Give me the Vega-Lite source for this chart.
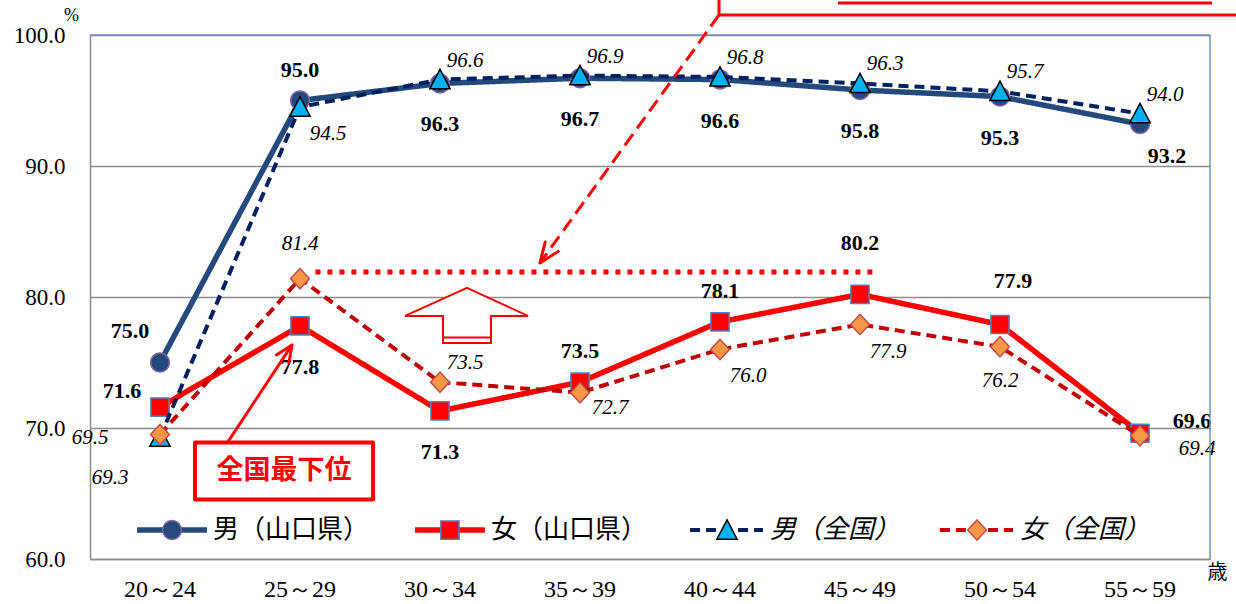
{
  "$schema": "https://vega.github.io/schema/vega-lite/v6.json",
  "width": 1120,
  "height": 524,
  "autosize": "none",
  "padding": {"left": 90, "top": 35, "right": 26, "bottom": 45},
  "background": "white",
  "config": {"view": {"stroke": null}},
  "datasets": {
    "main": [
      {"age": "20～24", "series": "男（山口県）", "v": 75.0, "pos": "NW"},
      {"age": "25～29", "series": "男（山口県）", "v": 95.0, "pos": "N"},
      {"age": "30～34", "series": "男（山口県）", "v": 96.3, "pos": "S"},
      {"age": "35～39", "series": "男（山口県）", "v": 96.7, "pos": "S"},
      {"age": "40～44", "series": "男（山口県）", "v": 96.6, "pos": "S"},
      {"age": "45～49", "series": "男（山口県）", "v": 95.8, "pos": "S"},
      {"age": "50～54", "series": "男（山口県）", "v": 95.3, "pos": "S"},
      {"age": "55～59", "series": "男（山口県）", "v": 93.2, "pos": "SE"},
      {"age": "20～24", "series": "女（山口県）", "v": 71.6, "pos": "W"},
      {"age": "25～29", "series": "女（山口県）", "v": 77.8, "pos": "S"},
      {"age": "30～34", "series": "女（山口県）", "v": 71.3, "pos": "S"},
      {"age": "35～39", "series": "女（山口県）", "v": 73.5, "pos": "N"},
      {"age": "40～44", "series": "女（山口県）", "v": 78.1, "pos": "N"},
      {"age": "45～49", "series": "女（山口県）", "v": 80.2, "pos": "NN"},
      {"age": "50～54", "series": "女（山口県）", "v": 77.9, "pos": "NNE"},
      {"age": "55～59", "series": "女（山口県）", "v": 69.6, "pos": "E"},
      {"age": "20～24", "series": "男（全国）", "v": 69.3, "pos": "SW"},
      {"age": "25～29", "series": "男（全国）", "v": 94.5, "pos": "SE"},
      {"age": "30～34", "series": "男（全国）", "v": 96.6, "pos": "NE"},
      {"age": "35～39", "series": "男（全国）", "v": 96.9, "pos": "NE"},
      {"age": "40～44", "series": "男（全国）", "v": 96.8, "pos": "NE"},
      {"age": "45～49", "series": "男（全国）", "v": 96.3, "pos": "NE"},
      {"age": "50～54", "series": "男（全国）", "v": 95.7, "pos": "NE"},
      {"age": "55～59", "series": "男（全国）", "v": 94.0, "pos": "NE"},
      {"age": "20～24", "series": "女（全国）", "v": 69.5, "pos": "W"},
      {"age": "25～29", "series": "女（全国）", "v": 81.4, "pos": "N"},
      {"age": "30～34", "series": "女（全国）", "v": 73.5, "pos": "NE"},
      {"age": "35～39", "series": "女（全国）", "v": 72.7, "pos": "ESE"},
      {"age": "40～44", "series": "女（全国）", "v": 76.0, "pos": "SE"},
      {"age": "45～49", "series": "女（全国）", "v": 77.9, "pos": "SE"},
      {"age": "50～54", "series": "女（全国）", "v": 76.2, "pos": "S"},
      {"age": "55～59", "series": "女（全国）", "v": 69.4, "pos": "E"}
    ],
    "legend": [
      {"series": "男（山口県）", "x": 0.336, "x2": 0.836, "xm": 0.586, "xt": 0.879, "y": 62.21},
      {"series": "女（山口県）", "x": 2.321, "x2": 2.821, "xm": 2.571, "xt": 2.864, "y": 62.21},
      {"series": "男（全国）", "x": 4.286, "x2": 4.807, "xm": 4.55, "xt": 4.857, "y": 62.21},
      {"series": "女（全国）", "x": 6.071, "x2": 6.593, "xm": 6.336, "xt": 6.643, "y": 62.21}
    ],
    "frame": [
      {"x": 0, "y": 100, "x2": 8, "y2": 100},
      {"x": 8, "y": 60, "x2": 8, "y2": 100}
    ],
    "dotted": [{"x": 1.61, "x2": 5.59, "y": 81.9}],
    "uparrow": [{"x": 2.686, "y": 78.63}],
    "box": [{"x": 1.386, "y": 66.72, "label": "全国最下位"}],
    "solidline": [{"x": 0.979, "y": 68.85, "x2": 1.443, "y2": 76.34}],
    "solidhead": [{"x": 1.443, "y": 76.34}],
    "dashline": [{"x": 4.493, "y": 101.53, "x2": 3.214, "y2": 82.6}],
    "dashhead": [{"x": 3.214, "y": 82.6}],
    "callout": [
      {"x": 4.493, "y": 101.53, "x2": 8.3, "y2": 101.53},
      {"x": 4.493, "y": 101.53, "x2": 4.493, "y2": 103.3},
      {"x": 5.343, "y": 102.44, "x2": 8.014, "y2": 102.44}
    ]
  },
  "layer": [
    {
      "data": {"name": "main"},
      "encoding": {
        "x": {
          "field": "age", "type": "ordinal", "sort": null,
          "scale": {"type": "band", "paddingInner": 0, "paddingOuter": 0},
          "axis": {
            "labelFont": "Liberation Serif", "labelFontSize": 24, "labelColor": "#000000",
            "labelPadding": 18, "ticks": false, "tickSize": 0, "labelAngle": 0,
            "domainColor": "#8C8C8C", "domainWidth": 1.5,
            "title": "歳", "titleFont": "Noto Sans CJK JP", "titleFontSize": 20, "titleFontWeight": "normal",
            "titleColor": "#000000", "titleX": 1117, "titleY": 13, "titleAlign": "left", "titleBaseline": "middle", "titleAngle": 0
          }
        },
        "y": {
          "field": "v", "type": "quantitative",
          "scale": {"domain": [60, 100], "nice": false, "zero": false},
          "axis": {
            "values": [60, 70, 80, 90, 100], "format": ".1f",
            "labelFont": "Liberation Serif", "labelFontSize": 23, "labelColor": "#000000",
            "labelPadding": 25, "ticks": false, "tickSize": 0, "labelFlush": false, "labelOverlap": false,
            "grid": true, "gridColor": "#8C8C8C", "gridWidth": 1.3,
            "domainColor": "#8C8C8C", "domainWidth": 1.5,
            "title": "%", "titleFont": "Liberation Serif", "titleFontSize": 18, "titleFontWeight": "normal",
            "titleColor": "#000000", "titleAngle": 0, "titleX": -19, "titleY": -20, "titleAlign": "center", "titleBaseline": "middle"
          }
        }
      },
      "layer": [
        {
          "transform": [{"filter": "datum.series === '男（山口県）'"}],
          "mark": {"type": "line", "strokeWidth": 5.5, "strokeJoin": "round"},
          "encoding": {
            "color": {"field": "series", "type": "nominal", "legend": null,
              "scale": {"domain": ["男（山口県）", "女（山口県）", "男（全国）", "女（全国）"], "range": ["#24497D", "#FF0000", "#002060", "#C00000"]}},
            "strokeDash": {"field": "series", "type": "nominal", "legend": null,
              "scale": {"domain": ["男（山口県）", "女（山口県）", "男（全国）", "女（全国）"], "range": [[1, 0], [1, 0], [10, 6], [10, 6]]}}
          }
        },
        {
          "transform": [{"filter": "datum.series === '男（山口県）'"}],
          "mark": {"type": "point", "filled": true, "size": 4900, "strokeWidth": 1.5, "opacity": 1},
          "encoding": {
            "fill": {"field": "series", "type": "nominal", "legend": null,
              "scale": {"domain": ["男（山口県）", "女（山口県）", "男（全国）", "女（全国）"], "range": ["#24497D", "#FF0000", "#00B0F0", "#F79646"]}},
            "shape": {"field": "series", "type": "nominal", "legend": null,
              "scale": {"domain": ["男（山口県）", "女（山口県）", "男（全国）", "女（全国）"],
                "range": ["M0.27,0L0.2494,0.1033L0.1909,0.1909L0.1033,0.2494L0,0.27L-0.1033,0.2494L-0.1909,0.1909L-0.2494,0.1033L-0.27,0L-0.2494,-0.1033L-0.1909,-0.1909L-0.1033,-0.2494L0,-0.27L0.1033,-0.2494L0.1909,-0.1909L0.2494,-0.1033Z", "M-0.26,-0.26L0.26,-0.26L0.26,0.26L-0.26,0.26Z", "M0,-0.29L0.29,0.26L-0.29,0.26Z", "M0,-0.29L0.27,0L0,0.29L-0.27,0Z"]}},
            "stroke": {"field": "series", "type": "nominal", "legend": null,
              "scale": {"domain": ["男（山口県）", "女（山口県）", "男（全国）", "女（全国）"], "range": ["#8064A2", "#4F81BD", "#000000", "#C0504D"]}}
          }
        },
        {
          "transform": [{"filter": "datum.series === '女（山口県）'"}],
          "mark": {"type": "line", "strokeWidth": 5.5, "strokeJoin": "round"},
          "encoding": {"color": {"field": "series", "type": "nominal", "legend": null}, "strokeDash": {"field": "series", "type": "nominal", "legend": null}}
        },
        {
          "transform": [{"filter": "datum.series === '女（山口県）'"}],
          "mark": {"type": "point", "filled": true, "size": 4900, "strokeWidth": 1.5, "opacity": 1},
          "encoding": {"fill": {"field": "series", "type": "nominal", "legend": null}, "shape": {"field": "series", "type": "nominal", "legend": null}, "stroke": {"field": "series", "type": "nominal", "legend": null}}
        },
        {
          "transform": [{"filter": "datum.series === '男（全国）'"}],
          "mark": {"type": "line", "strokeWidth": 4, "strokeJoin": "round", "strokeCap": "butt"},
          "encoding": {"color": {"field": "series", "type": "nominal", "legend": null}, "strokeDash": {"field": "series", "type": "nominal", "legend": null}}
        },
        {
          "transform": [{"filter": "datum.series === '男（全国）'"}],
          "mark": {"type": "point", "filled": true, "size": 4900, "strokeWidth": 1.5, "opacity": 1},
          "encoding": {"fill": {"field": "series", "type": "nominal", "legend": null}, "shape": {"field": "series", "type": "nominal", "legend": null}, "stroke": {"field": "series", "type": "nominal", "legend": null}}
        },
        {
          "transform": [{"filter": "datum.series === '女（全国）'"}],
          "mark": {"type": "line", "strokeWidth": 4, "strokeJoin": "round", "strokeCap": "butt"},
          "encoding": {"color": {"field": "series", "type": "nominal", "legend": null}, "strokeDash": {"field": "series", "type": "nominal", "legend": null}}
        },
        {
          "transform": [{"filter": "datum.series === '女（全国）'"}],
          "mark": {"type": "point", "filled": true, "size": 4900, "strokeWidth": 1.5, "opacity": 1},
          "encoding": {"fill": {"field": "series", "type": "nominal", "legend": null}, "shape": {"field": "series", "type": "nominal", "legend": null}, "stroke": {"field": "series", "type": "nominal", "legend": null}}
        },
        {"transform": [{"filter": "indexof(datum.series, '山口県') >= 0 && datum.pos === 'NW'"}],
         "mark": {"type": "text", "dx": -30, "dy": -32, "font": "Liberation Serif", "fontSize": 22, "fontWeight": "bold", "color": "#000000"},
         "encoding": {"text": {"field": "v", "type": "quantitative", "format": ".1f"}}},
        {"transform": [{"filter": "indexof(datum.series, '山口県') >= 0 && datum.pos === 'N'"}],
         "mark": {"type": "text", "dx": 0, "dy": -31, "font": "Liberation Serif", "fontSize": 22, "fontWeight": "bold", "color": "#000000"},
         "encoding": {"text": {"field": "v", "type": "quantitative", "format": ".1f"}}},
        {"transform": [{"filter": "indexof(datum.series, '山口県') >= 0 && datum.pos === 'S'"}],
         "mark": {"type": "text", "dx": 0, "dy": 41, "font": "Liberation Serif", "fontSize": 22, "fontWeight": "bold", "color": "#000000"},
         "encoding": {"text": {"field": "v", "type": "quantitative", "format": ".1f"}}},
        {"transform": [{"filter": "indexof(datum.series, '山口県') >= 0 && datum.pos === 'SE'"}],
         "mark": {"type": "text", "dx": 27, "dy": 32, "font": "Liberation Serif", "fontSize": 22, "fontWeight": "bold", "color": "#000000"},
         "encoding": {"text": {"field": "v", "type": "quantitative", "format": ".1f"}}},
        {"transform": [{"filter": "indexof(datum.series, '山口県') >= 0 && datum.pos === 'W'"}],
         "mark": {"type": "text", "dx": -38, "dy": -16, "font": "Liberation Serif", "fontSize": 22, "fontWeight": "bold", "color": "#000000"},
         "encoding": {"text": {"field": "v", "type": "quantitative", "format": ".1f"}}},
        {"transform": [{"filter": "indexof(datum.series, '山口県') >= 0 && datum.pos === 'NN'"}],
         "mark": {"type": "text", "dx": 0, "dy": -51, "font": "Liberation Serif", "fontSize": 22, "fontWeight": "bold", "color": "#000000"},
         "encoding": {"text": {"field": "v", "type": "quantitative", "format": ".1f"}}},
        {"transform": [{"filter": "indexof(datum.series, '山口県') >= 0 && datum.pos === 'NNE'"}],
         "mark": {"type": "text", "dx": 13, "dy": -44, "font": "Liberation Serif", "fontSize": 22, "fontWeight": "bold", "color": "#000000"},
         "encoding": {"text": {"field": "v", "type": "quantitative", "format": ".1f"}}},
        {"transform": [{"filter": "indexof(datum.series, '山口県') >= 0 && datum.pos === 'E'"}],
         "mark": {"type": "text", "dx": 52, "dy": -12, "font": "Liberation Serif", "fontSize": 22, "fontWeight": "bold", "color": "#000000"},
         "encoding": {"text": {"field": "v", "type": "quantitative", "format": ".1f"}}},
        {"transform": [{"filter": "indexof(datum.series, '全国') >= 0 && datum.pos === 'SW'"}],
         "mark": {"type": "text", "dx": -50, "dy": 41, "font": "Liberation Serif", "fontSize": 21, "fontStyle": "italic", "color": "#000000"},
         "encoding": {"text": {"field": "v", "type": "quantitative", "format": ".1f"}}},
        {"transform": [{"filter": "indexof(datum.series, '全国') >= 0 && datum.pos === 'SE'"}],
         "mark": {"type": "text", "dx": 28, "dy": 27, "font": "Liberation Serif", "fontSize": 21, "fontStyle": "italic", "color": "#000000"},
         "encoding": {"text": {"field": "v", "type": "quantitative", "format": ".1f"}}},
        {"transform": [{"filter": "indexof(datum.series, '全国') >= 0 && datum.pos === 'NE'"}],
         "mark": {"type": "text", "dx": 25, "dy": -19, "font": "Liberation Serif", "fontSize": 21, "fontStyle": "italic", "color": "#000000"},
         "encoding": {"text": {"field": "v", "type": "quantitative", "format": ".1f"}}},
        {"transform": [{"filter": "indexof(datum.series, '全国') >= 0 && datum.pos === 'W'"}],
         "mark": {"type": "text", "dx": -70, "dy": 3, "font": "Liberation Serif", "fontSize": 21, "fontStyle": "italic", "color": "#000000"},
         "encoding": {"text": {"field": "v", "type": "quantitative", "format": ".1f"}}},
        {"transform": [{"filter": "indexof(datum.series, '全国') >= 0 && datum.pos === 'N'"}],
         "mark": {"type": "text", "dx": 0, "dy": -35, "font": "Liberation Serif", "fontSize": 21, "fontStyle": "italic", "color": "#000000"},
         "encoding": {"text": {"field": "v", "type": "quantitative", "format": ".1f"}}},
        {"transform": [{"filter": "indexof(datum.series, '全国') >= 0 && datum.pos === 'ESE'"}],
         "mark": {"type": "text", "dx": 30, "dy": 15, "font": "Liberation Serif", "fontSize": 21, "fontStyle": "italic", "color": "#000000"},
         "encoding": {"text": {"field": "v", "type": "quantitative", "format": ".1f"}}},
        {"transform": [{"filter": "indexof(datum.series, '全国') >= 0 && datum.pos === 'S'"}],
         "mark": {"type": "text", "dx": 0, "dy": 34, "font": "Liberation Serif", "fontSize": 21, "fontStyle": "italic", "color": "#000000"},
         "encoding": {"text": {"field": "v", "type": "quantitative", "format": ".1f"}}},
        {"transform": [{"filter": "indexof(datum.series, '全国') >= 0 && datum.pos === 'E'"}],
         "mark": {"type": "text", "dx": 57, "dy": 13, "font": "Liberation Serif", "fontSize": 21, "fontStyle": "italic", "color": "#000000"},
         "encoding": {"text": {"field": "v", "type": "quantitative", "format": ".1f"}}}
      ]
    },
    {
      "layer": [
        {
          "data": {"name": "frame"},
          "mark": {"type": "rule", "color": "#6F90C8", "strokeWidth": 1.5},
          "encoding": {
            "x": {"field": "x", "type": "quantitative", "scale": {"domain": [0, 8], "nice": false, "zero": false}, "axis": null},
            "x2": {"field": "x2"},
            "y": {"field": "y", "type": "quantitative", "scale": {"domain": [60, 100], "nice": false, "zero": false}, "axis": null},
            "y2": {"field": "y2"}
          }
        },
        {
          "data": {"name": "legend"},
          "transform": [{"filter": "indexof(datum.series, '山口県') >= 0"}],
          "mark": {"type": "rule", "strokeWidth": 5.5},
          "encoding": {
            "x": {"field": "x", "type": "quantitative", "scale": {"domain": [0, 8], "nice": false, "zero": false}, "axis": null},
            "x2": {"field": "x2"},
            "y": {"field": "y", "type": "quantitative", "scale": {"domain": [60, 100], "nice": false, "zero": false}, "axis": null},
            "color": {"field": "series", "type": "nominal", "legend": null},
            "strokeDash": {"field": "series", "type": "nominal", "legend": null}
          }
        },
        {
          "data": {"name": "legend"},
          "transform": [{"filter": "indexof(datum.series, '全国') >= 0"}],
          "mark": {"type": "rule", "strokeWidth": 4},
          "encoding": {
            "x": {"field": "x", "type": "quantitative", "scale": {"domain": [0, 8], "nice": false, "zero": false}, "axis": null},
            "x2": {"field": "x2"},
            "y": {"field": "y", "type": "quantitative", "scale": {"domain": [60, 100], "nice": false, "zero": false}, "axis": null},
            "color": {"field": "series", "type": "nominal", "legend": null},
            "strokeDash": {"field": "series", "type": "nominal", "legend": null}
          }
        },
        {
          "data": {"name": "legend"},
          "mark": {"type": "point", "filled": true, "size": 4900, "strokeWidth": 1.5, "opacity": 1},
          "encoding": {
            "x": {"field": "xm", "type": "quantitative", "scale": {"domain": [0, 8], "nice": false, "zero": false}, "axis": null},
            "y": {"field": "y", "type": "quantitative", "scale": {"domain": [60, 100], "nice": false, "zero": false}, "axis": null},
            "fill": {"field": "series", "type": "nominal", "legend": null},
            "shape": {"field": "series", "type": "nominal", "legend": null},
            "stroke": {"field": "series", "type": "nominal", "legend": null}
          }
        },
        {
          "data": {"name": "legend"},
          "transform": [{"filter": "indexof(datum.series, '山口県') >= 0"}],
          "mark": {"type": "text", "align": "left", "baseline": "middle", "font": "Noto Sans CJK JP", "fontSize": 26, "color": "#000000"},
          "encoding": {
            "x": {"field": "xt", "type": "quantitative", "scale": {"domain": [0, 8], "nice": false, "zero": false}, "axis": null},
            "y": {"field": "y", "type": "quantitative", "scale": {"domain": [60, 100], "nice": false, "zero": false}, "axis": null},
            "text": {"field": "series"}
          }
        },
        {
          "data": {"name": "legend"},
          "transform": [{"filter": "indexof(datum.series, '全国') >= 0"}],
          "mark": {"type": "text", "align": "left", "baseline": "middle", "font": "Noto Sans CJK JP", "fontSize": 26, "fontStyle": "italic", "color": "#000000"},
          "encoding": {
            "x": {"field": "xt", "type": "quantitative", "scale": {"domain": [0, 8], "nice": false, "zero": false}, "axis": null},
            "y": {"field": "y", "type": "quantitative", "scale": {"domain": [60, 100], "nice": false, "zero": false}, "axis": null},
            "text": {"field": "series"}
          }
        },
        {
          "data": {"name": "dotted"},
          "mark": {"type": "rule", "color": "#FF0000", "strokeWidth": 5, "strokeDash": [5, 7]},
          "encoding": {
            "x": {"field": "x", "type": "quantitative", "scale": {"domain": [0, 8], "nice": false, "zero": false}, "axis": null},
            "x2": {"field": "x2"},
            "y": {"field": "y", "type": "quantitative", "scale": {"domain": [60, 100], "nice": false, "zero": false}, "axis": null}
          }
        },
        {
          "data": {"name": "uparrow"},
          "mark": {"type": "point", "filled": true, "fill": "#FFFFFF", "stroke": "#FF0000", "strokeWidth": 2, "opacity": 1, "size": 10000,
                   "shape": "M0.02,-0.54L1.24,0.02L0.5,0.02L0.5,0.56L-0.46,0.56L-0.46,0.02L-1.22,0.02ZM-0.46,0.45L0.5,0.45"},
          "encoding": {
            "x": {"field": "x", "type": "quantitative", "scale": {"domain": [0, 8], "nice": false, "zero": false}, "axis": null},
            "y": {"field": "y", "type": "quantitative", "scale": {"domain": [60, 100], "nice": false, "zero": false}, "axis": null}
          }
        },
        {
          "data": {"name": "solidline"},
          "mark": {"type": "rule", "color": "#FF0000", "strokeWidth": 3},
          "encoding": {
            "x": {"field": "x", "type": "quantitative", "scale": {"domain": [0, 8], "nice": false, "zero": false}, "axis": null},
            "x2": {"field": "x2"},
            "y": {"field": "y", "type": "quantitative", "scale": {"domain": [60, 100], "nice": false, "zero": false}, "axis": null},
            "y2": {"field": "y2"}
          }
        },
        {
          "data": {"name": "solidhead"},
          "mark": {"type": "point", "filled": false, "stroke": "#FF0000", "strokeWidth": 3, "opacity": 1, "size": 10000, "angle": 33.6,
                   "strokeCap": "round", "strokeJoin": "round", "shape": "M-0.15,0.34L0,0L0.15,0.34"},
          "encoding": {
            "x": {"field": "x", "type": "quantitative", "scale": {"domain": [0, 8], "nice": false, "zero": false}, "axis": null},
            "y": {"field": "y", "type": "quantitative", "scale": {"domain": [60, 100], "nice": false, "zero": false}, "axis": null}
          }
        },
        {
          "data": {"name": "dashline"},
          "mark": {"type": "rule", "color": "#FF0000", "strokeWidth": 3, "strokeDash": [14, 7]},
          "encoding": {
            "x": {"field": "x", "type": "quantitative", "scale": {"domain": [0, 8], "nice": false, "zero": false}, "axis": null},
            "x2": {"field": "x2"},
            "y": {"field": "y", "type": "quantitative", "scale": {"domain": [60, 100], "nice": false, "zero": false}, "axis": null},
            "y2": {"field": "y2"}
          }
        },
        {
          "data": {"name": "dashhead"},
          "mark": {"type": "point", "filled": false, "stroke": "#FF0000", "strokeWidth": 3, "opacity": 1, "size": 10000, "angle": 215.8,
                   "strokeCap": "round", "strokeJoin": "round", "shape": "M-0.16,0.4L0,0L0.16,0.4"},
          "encoding": {
            "x": {"field": "x", "type": "quantitative", "scale": {"domain": [0, 8], "nice": false, "zero": false}, "axis": null},
            "y": {"field": "y", "type": "quantitative", "scale": {"domain": [60, 100], "nice": false, "zero": false}, "axis": null}
          }
        },
        {
          "data": {"name": "callout"},
          "mark": {"type": "rule", "color": "#FF0000", "strokeWidth": 3},
          "encoding": {
            "x": {"field": "x", "type": "quantitative", "scale": {"domain": [0, 8], "nice": false, "zero": false}, "axis": null},
            "x2": {"field": "x2"},
            "y": {"field": "y", "type": "quantitative", "scale": {"domain": [60, 100], "nice": false, "zero": false}, "axis": null},
            "y2": {"field": "y2"}
          }
        },
        {
          "data": {"name": "box"},
          "mark": {"type": "point", "filled": true, "fill": "#FFFFFF", "stroke": "#FF0000", "strokeWidth": 4, "opacity": 1, "size": 10000,
                   "strokeJoin": "round", "shape": "M-1.78,-0.57L1.78,-0.57L1.78,0.57L-1.78,0.57Z"},
          "encoding": {
            "x": {"field": "x", "type": "quantitative", "scale": {"domain": [0, 8], "nice": false, "zero": false}, "axis": null},
            "y": {"field": "y", "type": "quantitative", "scale": {"domain": [60, 100], "nice": false, "zero": false}, "axis": null}
          }
        },
        {
          "data": {"name": "box"},
          "mark": {"type": "text", "color": "#FF0000", "font": "Noto Sans CJK JP", "fontSize": 27, "fontWeight": "bold", "align": "center", "baseline": "middle"},
          "encoding": {
            "x": {"field": "x", "type": "quantitative", "scale": {"domain": [0, 8], "nice": false, "zero": false}, "axis": null},
            "y": {"field": "y", "type": "quantitative", "scale": {"domain": [60, 100], "nice": false, "zero": false}, "axis": null},
            "text": {"field": "label"}
          }
        }
      ]
    }
  ],
  "resolve": {"scale": {"x": "independent"}, "axis": {"y": "independent"}}
}
